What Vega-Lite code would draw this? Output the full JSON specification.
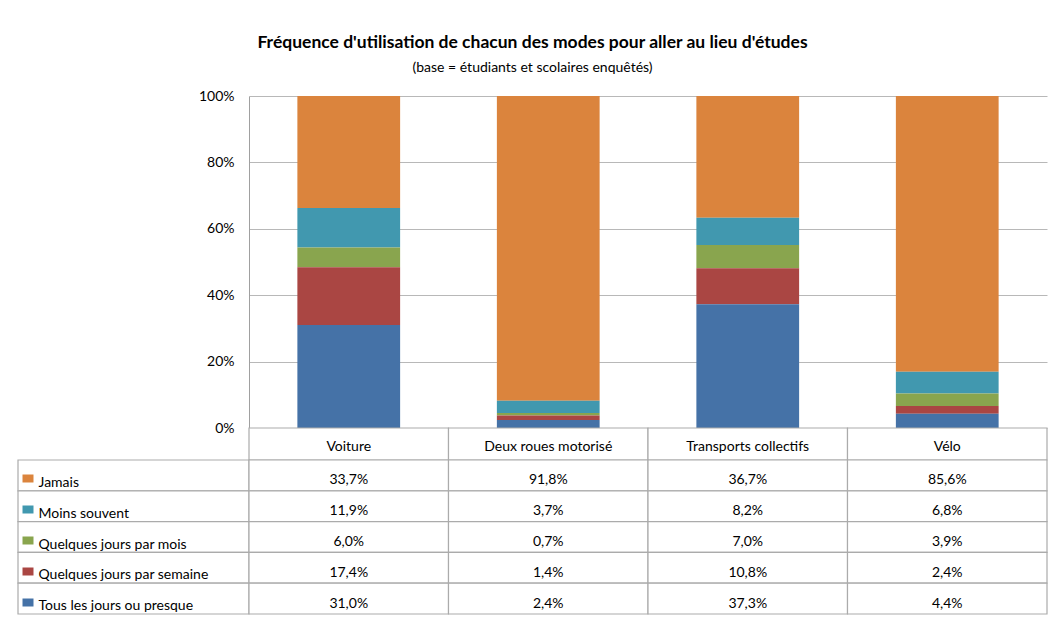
{
  "$schema": "https://vega.github.io/schema/vega-lite/v6.json",
  "padding": {"left": 17, "top": 33, "right": 5, "bottom": 10},
  "background": "white",
  "config": {
    "view": {"stroke": null},
    "font": "Lato",
    "locale": {"number": {"decimal": ",", "thousands": " ", "grouping": [3], "currency": ["", " €"]}}
  },
  "title": {
    "text": "Fréquence d'utilisation de chacun des modes pour aller au lieu d'études",
    "subtitle": "(base = étudiants et scolaires enquêtés)",
    "font": "Lato",
    "fontSize": 17.5,
    "fontWeight": "bold",
    "color": "#000000",
    "subtitleFont": "Lato",
    "subtitleFontSize": 14,
    "subtitleColor": "#000000",
    "subtitlePadding": 10,
    "anchor": "middle",
    "offset": 14
  },
  "datasets": {
    "main": [
      {"mode": "Voiture", "freq": "Jamais", "value": 0.337},
      {"mode": "Voiture", "freq": "Moins souvent", "value": 0.119},
      {"mode": "Voiture", "freq": "Quelques jours par mois", "value": 0.060},
      {"mode": "Voiture", "freq": "Quelques jours par semaine", "value": 0.174},
      {"mode": "Voiture", "freq": "Tous les jours ou presque", "value": 0.310},
      {"mode": "Deux roues motorisé", "freq": "Jamais", "value": 0.918},
      {"mode": "Deux roues motorisé", "freq": "Moins souvent", "value": 0.037},
      {"mode": "Deux roues motorisé", "freq": "Quelques jours par mois", "value": 0.007},
      {"mode": "Deux roues motorisé", "freq": "Quelques jours par semaine", "value": 0.014},
      {"mode": "Deux roues motorisé", "freq": "Tous les jours ou presque", "value": 0.024},
      {"mode": "Transports collectifs", "freq": "Jamais", "value": 0.367},
      {"mode": "Transports collectifs", "freq": "Moins souvent", "value": 0.082},
      {"mode": "Transports collectifs", "freq": "Quelques jours par mois", "value": 0.070},
      {"mode": "Transports collectifs", "freq": "Quelques jours par semaine", "value": 0.108},
      {"mode": "Transports collectifs", "freq": "Tous les jours ou presque", "value": 0.373},
      {"mode": "Vélo", "freq": "Jamais", "value": 0.856},
      {"mode": "Vélo", "freq": "Moins souvent", "value": 0.068},
      {"mode": "Vélo", "freq": "Quelques jours par mois", "value": 0.039},
      {"mode": "Vélo", "freq": "Quelques jours par semaine", "value": 0.024},
      {"mode": "Vélo", "freq": "Tous les jours ou presque", "value": 0.044}
    ]
  },
  "columns": 2,
  "bounds": "flush",
  "spacing": {"row": 0, "column": 0},
  "concat": [
    {
      "width": 231, "height": 332,
      "data": {"name": "main"},
      "mark": {"type": "rule", "opacity": 0},
      "encoding": {}
    },
    {
      "width": 798, "height": 332,
      "data": {"name": "main"},
      "mark": {"type": "bar", "width": {"band": 0.515}},
      "encoding": {
        "x": {"field": "mode", "type": "nominal",
              "sort": ["Voiture", "Deux roues motorisé", "Transports collectifs", "Vélo"],
              "scale": {"paddingInner": 0, "paddingOuter": 0},
              "axis": null},
        "y": {"field": "value", "type": "quantitative", "stack": "normalize",
              "scale": {"domain": [0, 1]},
              "axis": {"values": [0, 0.2, 0.4, 0.6, 0.8, 1], "format": ".0%", "title": null,
                       "ticks": false, "labelPadding": 15, "labelFontSize": 14, "labelColor": "#000000",
                       "domainColor": "#A0A0A0", "gridColor": "#B8B8B8", "grid": true, "labelFont": "Lato"}},
        "color": {"field": "freq", "type": "nominal",
                  "sort": ["Tous les jours ou presque", "Quelques jours par semaine", "Quelques jours par mois", "Moins souvent", "Jamais"],
                  "scale": {"range": ["#4572A7", "#AA4643", "#89A54E", "#4198AF", "#DB843D"]},
                  "legend": null}
      }
    },
    {
      "width": 231, "height": 32,
      "data": {"name": "main"},
      "mark": {"type": "rule", "opacity": 0},
      "encoding": {}
    },
    {
      "width": 798, "height": 32,
      "data": {"name": "main"},
      "transform": [{"filter": {"field": "freq", "equal": "Jamais"}}],
      "encoding": {
        "x": {"field": "mode", "type": "nominal",
              "sort": ["Voiture", "Deux roues motorisé", "Transports collectifs", "Vélo"],
              "scale": {"paddingInner": 0, "paddingOuter": 0},
              "axis": null}
      },
      "layer": [
        {"mark": {"type": "rect", "fill": "#FFFFFF", "stroke": "#ABABAB", "strokeWidth": 1.2}},
        {"mark": {"type": "text", "fontSize": 14, "color": "#000000", "dy": 3}, "encoding": {"text": {"field": "mode"}}}
      ]
    },
    {
      "width": 231, "height": 154,
      "data": {"name": "main"},
      "transform": [{"filter": {"field": "mode", "equal": "Voiture"}}],
      "mark": {"type": "rect", "fill": "#FFFFFF", "stroke": "#ABABAB", "strokeWidth": 1.2},
      "encoding": {
        "y": {"field": "freq", "type": "nominal",
              "sort": ["Jamais", "Moins souvent", "Quelques jours par mois", "Quelques jours par semaine", "Tous les jours ou presque"],
              "scale": {"paddingInner": 0, "paddingOuter": 0},
              "axis": {"title": null, "domain": false, "grid": false, "ticks": true,
                       "tickSize": -11, "tickWidth": 8, "tickOffset": 3, "offset": -4,
                       "tickColor": {"condition": [
                         {"test": "datum.value === 'Jamais'", "value": "#DB843D"},
                         {"test": "datum.value === 'Moins souvent'", "value": "#4198AF"},
                         {"test": "datum.value === 'Quelques jours par mois'", "value": "#89A54E"},
                         {"test": "datum.value === 'Quelques jours par semaine'", "value": "#AA4643"}
                       ], "value": "#4572A7"},
                       "labelAlign": "left", "labelPadding": -5, "labelOffset": 4,
                       "labelFontSize": 14, "labelColor": "#000000", "labelLimit": 0, "labelFont": "Lato"}}
      }
    },
    {
      "width": 798, "height": 154,
      "data": {"name": "main"},
      "encoding": {
        "x": {"field": "mode", "type": "nominal",
              "sort": ["Voiture", "Deux roues motorisé", "Transports collectifs", "Vélo"],
              "scale": {"paddingInner": 0, "paddingOuter": 0},
              "axis": null},
        "y": {"field": "freq", "type": "nominal",
              "sort": ["Jamais", "Moins souvent", "Quelques jours par mois", "Quelques jours par semaine", "Tous les jours ou presque"],
              "scale": {"paddingInner": 0, "paddingOuter": 0},
              "axis": null}
      },
      "layer": [
        {"mark": {"type": "rect", "fill": "#FFFFFF", "stroke": "#ABABAB", "strokeWidth": 1.2}},
        {"mark": {"type": "text", "fontSize": 14, "color": "#000000", "dy": 5},
         "encoding": {"text": {"field": "value", "type": "quantitative", "format": ".1%"}}}
      ]
    }
  ]
}
